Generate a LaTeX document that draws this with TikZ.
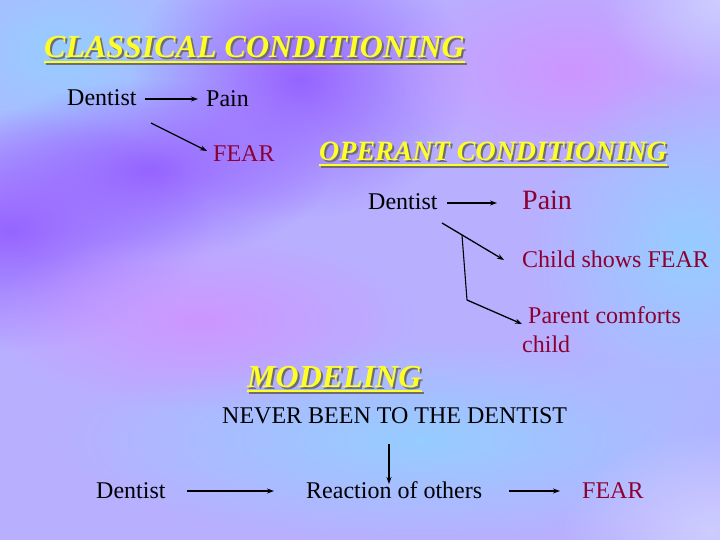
\documentclass[tikz,border=0pt]{standalone}
\usepackage{fontspec}
\setmainfont{Liberation Serif}
\usetikzlibrary{arrows.meta,fadings}
\tikzfading[name=myfade, inner color=transparent!0, outer color=transparent!100]
\definecolor{dred}{RGB}{140,0,50}
\definecolor{ttl}{RGB}{255,255,40}
\definecolor{shd}{RGB}{110,110,110}
\definecolor{bgbase}{RGB}{184,176,255}
\definecolor{lblue}{RGB}{150,205,255}
\definecolor{purp}{RGB}{150,100,255}
\definecolor{pinkl}{RGB}{205,150,255}
\definecolor{lav}{RGB}{205,205,255}
\tikzset{
  txt/.style={anchor=base west,inner sep=0pt,font=\fontsize{24}{28}\selectfont},
  ttltxt/.style={anchor=base west,inner sep=0pt,text=ttl,font=\bfseries\itshape\fontsize{#1}{#1}\selectfont},
  ttlshd/.style={anchor=base west,inner sep=0pt,text=shd,font=\bfseries\itshape\fontsize{#1}{#1}\selectfont},
  arr/.style={line width=1.3pt,-{Stealth[length=7pt,width=5pt]}},
  ln/.style={line width=1.1pt},
  blob/.style={fill=#1,path fading=myfade}
}
\begin{document}
\begin{tikzpicture}[x=1pt,y=-1pt]
\useasboundingbox (0,0) rectangle (720,540);
% background
\fill[bgbase] (0,0) rectangle (720,540);
\begin{scope}
\clip (0,0) rectangle (720,540);
\fill[blob=lblue] (60,50) ellipse (200 and 140);
\fill[blob=purp] (300,80) ellipse (170 and 140);
\fill[blob=purp] (150,170) ellipse (180 and 90);
\fill[blob=purp] (10,230) ellipse (200 and 120);
\fill[blob=pinkl] (570,70) ellipse (190 and 110);
\fill[blob=lav] (720,0) ellipse (120 and 90);
\fill[blob=lblue] (690,250) ellipse (160 and 180);
\fill[blob=lblue] (420,440) ellipse (360 and 100);
\fill[blob=lav] (710,530) ellipse (150 and 100);
\fill[blob=pinkl] (200,320) ellipse (220 and 90);
\end{scope}

% CLASSICAL CONDITIONING title
\node[ttlshd=32] at (46,60) {CLASSICAL CONDITIONING};
\node[ttltxt=32] (t1) at (44,58) {CLASSICAL CONDITIONING};
\draw[shd,line width=2pt] ([xshift=2pt,yshift=-6pt]t1.base west) -- ([xshift=2pt,yshift=-6pt]t1.base east);
\draw[ttl,line width=2pt] ([yshift=-4pt]t1.base west) -- ([yshift=-4pt]t1.base east);

\node[txt] (d1) at (67,106) {Dentist};
\node[txt] (p1) at (206,107) {Pain};
\node[txt,text=dred] (f1) at (213,162) {FEAR};
\coordinate (c1a) at (145,99);
\coordinate (c1e) at (198,99);
\coordinate (c1b) at (151,123);
\coordinate (c1f) at (207,151);
\draw[arr] (c1a) -- (c1e);
\draw[arr] (c1b) -- (c1f);

% OPERANT CONDITIONING
\node[ttlshd=28] at (321,163) {OPERANT CONDITIONING};
\node[ttltxt=28] (t2) at (319,161) {OPERANT CONDITIONING};
\draw[shd,line width=2pt] ([xshift=2pt,yshift=-6pt]t2.base west) -- ([xshift=2pt,yshift=-6pt]t2.base east);
\draw[ttl,line width=2pt] ([yshift=-4pt]t2.base west) -- ([yshift=-4pt]t2.base east);

\node[txt] (d2) at (368,210) {Dentist};
\node[txt,text=dred,font=\fontsize{28}{32}\selectfont] (p2) at (522,210) {Pain};
\node[txt,text=dred] (cf) at (522,267) {Child shows FEAR};
\node[txt,text=dred] (pc) at (528,323) {Parent comforts};
\node[txt,text=dred] (pc2) at (522,352) {child};
\coordinate (a2s) at (447,203);
\coordinate (a2e) at (497,203);
\draw[arr] (a2s) -- (a2e);
\coordinate (b0) at (442,223);
\coordinate (br) at (462,235);
\coordinate (b2) at (467,300);
\coordinate (be1) at (504,260);
\coordinate (be2) at (522,324);
\draw[arr] (b0) -- (be1);
\draw[ln] (br) -- (b2);
\draw[arr] (b2) -- (be2);

% MODELING
\node[ttlshd=32] at (249,389) {MODELING};
\node[ttltxt=32] (t3) at (247,387) {MODELING};
\draw[shd,line width=2pt] ([xshift=2pt,yshift=-6pt]t3.base west) -- ([xshift=2pt,yshift=-6pt]t3.base east);
\draw[ttl,line width=2pt] ([yshift=-4pt]t3.base west) -- ([yshift=-4pt]t3.base east);

\node[txt] (nb) at (222,423) {NEVER BEEN TO THE DENTIST};
\node[txt] (d3) at (96,498) {Dentist};
\node[txt] (ro) at (306,498) {Reaction of others};
\node[txt,text=dred] (f3) at (582,498) {FEAR};
\coordinate (v1) at (389,444);
\coordinate (v2) at (389,484);
\draw[arr] (v1) -- (v2);
\coordinate (h1s) at (187,491);
\coordinate (h1e) at (274,491);
\coordinate (h2s) at (509,491);
\coordinate (h2e) at (560,491);
\draw[arr] (h1s) -- (h1e);
\draw[arr] (h2s) -- (h2e);
\end{tikzpicture}
\end{document}
